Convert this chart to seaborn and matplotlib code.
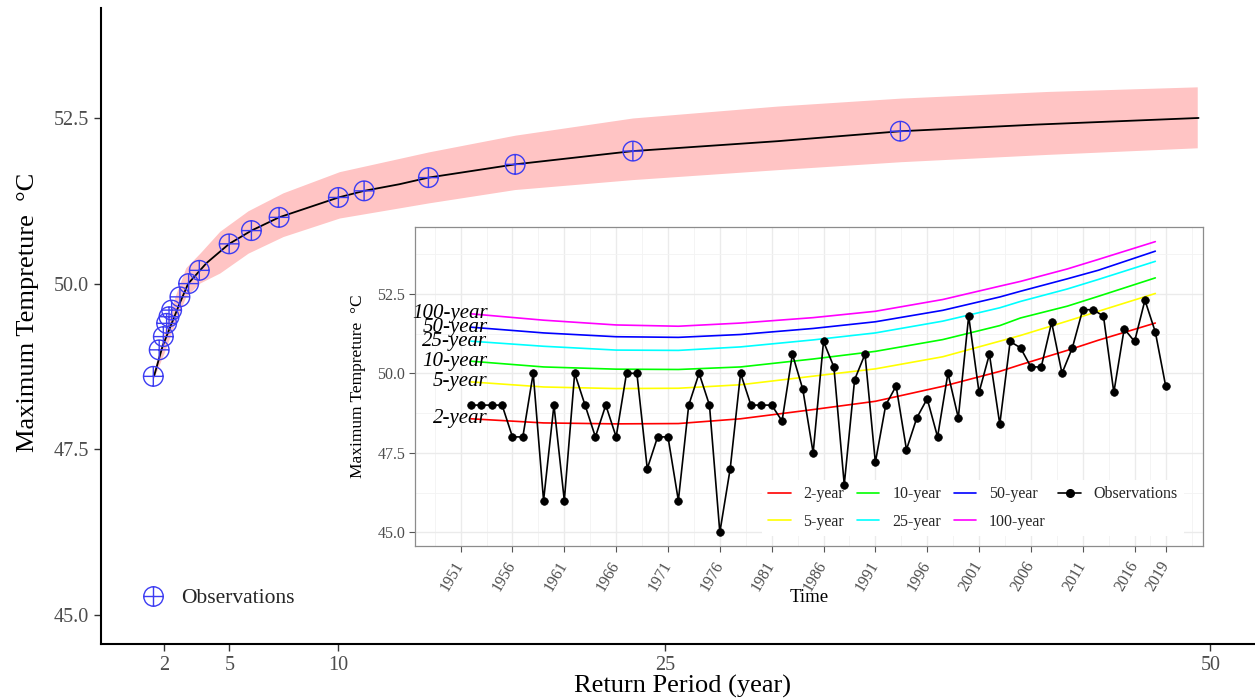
import matplotlib
matplotlib.use("Agg")
import matplotlib.pyplot as plt
from matplotlib.path import Path
from matplotlib.lines import Line2D
import seaborn as sns

# ---- Return-level plot (main panel) ----
obs_return_period = [1.51, 1.78, 1.97, 2.12, 2.23, 2.35, 2.73, 3.13, 3.62, 4.99,
                     6.01, 7.28, 10.0, 11.18, 14.13, 18.11, 23.51, 35.78]
obs_level = [48.6, 49.0, 49.2, 49.4, 49.5, 49.6, 49.8, 50.0, 50.2, 50.6,
             50.8, 51.0, 51.3, 51.4, 51.6, 51.8, 52.0, 52.3]

fit_return_period = [1.54, 1.94, 2.73, 3.11, 3.95, 4.99, 6.01, 7.28, 10.0, 11.18,
                     12.8, 14.13, 18.11, 23.5, 30.16, 35.8, 42.0, 49.46]
fit_level = [48.6, 49.06, 49.71, 50.0, 50.31, 50.6, 50.8, 51.0, 51.3, 51.4,
             51.5, 51.6, 51.8, 52.0, 52.15, 52.3, 52.4, 52.5]

ci_return_period = [1.5, 2.0, 2.5, 3.0, 3.65, 4.56, 5.86, 7.46, 10.05, 14.17,
                    18.1, 23.5, 30.15, 35.8, 42.5, 49.4]
ci_lower = [48.55, 48.95, 49.4, 49.8, 50.01, 50.16, 50.46, 50.71, 50.99, 51.22,
            51.42, 51.57, 51.72, 51.84, 51.95, 52.05]
ci_upper = [48.65, 49.25, 49.8, 50.24, 50.46, 50.79, 51.10, 51.37, 51.69, 51.99,
            52.24, 52.50, 52.68, 52.80, 52.90, 52.97]

main_xticks = [2, 5, 10, 25, 50]
main_yticks = [45.0, 47.5, 50.0, 52.5]

# ---- Annual maxima and non-stationary return levels (inset) ----
years = list(range(1952, 2020))
annual_max = [49.0, 49.0, 49.0, 49.0, 48.0, 48.0, 50.0, 46.0, 49.0, 46.0,
              50.0, 49.0, 48.0, 49.0, 48.0, 50.0, 50.0, 47.0, 48.0, 48.0,
              46.0, 49.0, 50.0, 49.0, 45.0, 47.0, 50.0, 49.0, 49.0, 49.0,
              48.5, 50.6, 49.5, 47.5, 51.0, 50.2, 46.5, 49.8, 50.6, 47.2,
              49.0, 49.6, 47.6, 48.6, 49.2, 48.0, 50.0, 48.6, 51.8, 49.4,
              50.6, 48.4, 51.0, 50.8, 50.2, 50.2, 51.6, 50.0, 50.8, 52.0,
              52.0, 51.8, 49.4, 51.4, 51.0, 52.3, 51.3, 49.6]

rl_years = [1952, 1959, 1966, 1972, 1978, 1985, 1991, 1997.5, 2003, 2005, 2009.5, 2012.5, 2018]
rl_2 = [48.57, 48.44, 48.41, 48.42, 48.57, 48.86, 49.12, 49.59, 50.06, 50.27, 50.72, 51.04, 51.58]
rl_5 = [49.73, 49.57, 49.52, 49.53, 49.64, 49.91, 50.14, 50.52, 51.01, 51.19, 51.64, 51.95, 52.51]
rl_10 = [50.38, 50.20, 50.13, 50.12, 50.20, 50.45, 50.69, 51.06, 51.50, 51.74, 52.11, 52.42, 53.00]
rl_25 = [51.01, 50.85, 50.73, 50.72, 50.83, 51.05, 51.27, 51.64, 52.06, 52.26, 52.65, 52.95, 53.52]
rl_50 = [51.45, 51.27, 51.15, 51.13, 51.22, 51.41, 51.62, 51.98, 52.40, 52.58, 52.97, 53.24, 53.84]
rl_100 = [51.87, 51.67, 51.52, 51.48, 51.58, 51.75, 51.95, 52.32, 52.74, 52.89, 53.28, 53.58, 54.14]

rl_names = ["2-year", "5-year", "10-year", "25-year", "50-year", "100-year"]
rl_colors = ["#FF0000", "#FFFF00", "#00FF00", "#00FFFF", "#0000FF", "#FF00FF"]

inset_xticks = [1951, 1956, 1961, 1966, 1971, 1976, 1981, 1986, 1991, 1996,
                2001, 2006, 2011, 2016, 2019]

# ---------------------------------------------------------------
sns.set_theme(style="white")
plt.rcParams["font.family"] = ["Liberation Serif", "DejaVu Serif"]

W, H = 1255, 699
fig = plt.figure(figsize=(W / 100, H / 100), dpi=100)
fig.patch.set_facecolor("white")

# main panel
ax = fig.add_axes([101 / W, 1 - 644 / H, 1 - 101 / W, (644 - 8) / H])
ax.set_facecolor("white")

# circle-plus marker
circ = Path.unit_circle()
oplus = Path(list(circ.vertices) + [(-1, 0), (1, 0), (0, -1), (0, 1)],
             list(circ.codes) + [Path.MOVETO, Path.LINETO, Path.MOVETO, Path.LINETO])
obs_blue = "#3C3CF2"

ax.fill_between(ci_return_period, ci_lower, ci_upper, color="#FFC4C4", lw=0, zorder=1)
sns.lineplot(x=fit_return_period, y=fit_level, color="black", lw=1.3,
             sort=False, estimator=None, ax=ax, zorder=2)
sns.scatterplot(x=obs_return_period, y=obs_level, marker=oplus, s=200,
                facecolor="none", edgecolor=obs_blue, linewidth=1.0, ax=ax, zorder=3)

ax.set_xlim(-0.89, 52.05)
ax.set_ylim(44.56, 54.16)
ax.set_xticks(main_xticks)
ax.set_xticklabels([str(t) for t in main_xticks])
ax.set_yticks(main_yticks)
ax.set_yticklabels([f"{t:.1f}" for t in main_yticks])
for s in ["top", "right"]:
    ax.spines[s].set_visible(False)
for s in ["left", "bottom"]:
    ax.spines[s].set_color("black")
    ax.spines[s].set_linewidth(1.5)
ax.tick_params(axis="both", which="major", direction="out", length=5, width=1.0,
               color="#333333", labelcolor="#4D4D4D", labelsize=14.5, pad=4,
               left=True, bottom=True)
ax.set_xlabel("Return Period (year)", fontsize=19, color="black")
ax.set_ylabel("Maximum Tempreture  °C", fontsize=19, color="black")
ax.xaxis.set_label_coords((683 - 101) / 1154, -(686 - 644) / 636)
ax.yaxis.set_label_coords(-(101 - 28) / 1154, (644 - 312) / 636)
ax.xaxis.label.set_va("center")
ax.yaxis.label.set_va("center")

h_obs = Line2D([], [], marker=oplus, markersize=14, mfc="none", mec=obs_blue,
               mew=1.0, ls="none")
ax.legend([h_obs], ["Observations"], loc="center left",
          bbox_to_anchor=(0.0188, (644 - 598) / 636), frameon=False,
          fontsize=15.5, handlelength=1.0, handletextpad=0.8)

# inset panel
axi = fig.add_axes([415 / W, 1 - 546 / H, (1203 - 415) / W, (546 - 227) / H])
axi.set_facecolor("white")
axi.set_xlim(1946.6, 2022.6)
axi.set_ylim(44.57, 54.6)

minor_x = [(a + b) / 2 for a, b in zip(inset_xticks[:-1], inset_xticks[1:])]
minor_x = [1948.5] + minor_x + [2021.5]
axi.set_xticks(inset_xticks)
axi.set_xticks(minor_x, minor=True)
axi.set_yticks(main_yticks)
axi.set_yticks([46.25, 48.75, 51.25, 53.75], minor=True)
axi.grid(which="major", color="#EBEBEB", lw=1.0)
axi.grid(which="minor", color="#F3F3F3", lw=0.6)
axi.set_axisbelow(True)

for name, col, vals in zip(rl_names, rl_colors, [rl_2, rl_5, rl_10, rl_25, rl_50, rl_100]):
    sns.lineplot(x=rl_years, y=vals, color=col, lw=1.2, sort=False,
                 estimator=None, ax=axi, zorder=2)
    axi.text(rl_years[0] + 1.6, vals[0], name, ha="right", va="center",
             style="italic", fontsize=15, color="black", zorder=4)

sns.lineplot(x=years, y=annual_max, color="black", lw=1.2, marker="o",
             markersize=5.5, markeredgecolor="black", markeredgewidth=0.5,
             sort=False, estimator=None, ax=axi, zorder=3)

for s in axi.spines.values():
    s.set_color("#8C8C8C")
    s.set_linewidth(0.9)
axi.set_xticklabels([str(t) for t in inset_xticks], rotation=60, ha="right",
                    va="center", rotation_mode="anchor")
axi.set_yticklabels([f"{t:.1f}" for t in main_yticks])
axi.tick_params(axis="both", which="major", direction="out", length=4, width=0.8,
                color="#555555", labelcolor="#4D4D4D", labelsize=11.5, pad=3,
                left=True, bottom=True)
axi.tick_params(axis="x", which="major", pad=8)
axi.tick_params(which="minor", length=0)
axi.set_xlabel("Time", fontsize=13.5, color="black")
axi.set_ylabel("Maximum Tempreture  °C", fontsize=12.5, color="black")
axi.xaxis.set_label_coords(0.5, -(597 - 546) / 319)
axi.yaxis.set_label_coords(-(415 - 358) / 788, 0.5)
axi.xaxis.label.set_va("center")
axi.yaxis.label.set_va("center")

leg_handles = [Line2D([], [], color=c, lw=1.2) for c in rl_colors]
leg_handles.append(Line2D([], [], color="black", lw=1.2, marker="o", markersize=5.5))
leg = axi.legend(leg_handles, rl_names + ["Observations"], ncol=4, loc="upper left",
                 bbox_to_anchor=((754 - 415) / 788, (546 - 472) / 319),
                 frameon=True, facecolor="white", edgecolor="none", framealpha=1,
                 fontsize=11.5, handlelength=1.4, handletextpad=0.8,
                 columnspacing=0.8, labelspacing=0.7, borderpad=0.4)
leg.set_zorder(2.5)

fig.savefig("out.png", dpi=100, facecolor="white")
